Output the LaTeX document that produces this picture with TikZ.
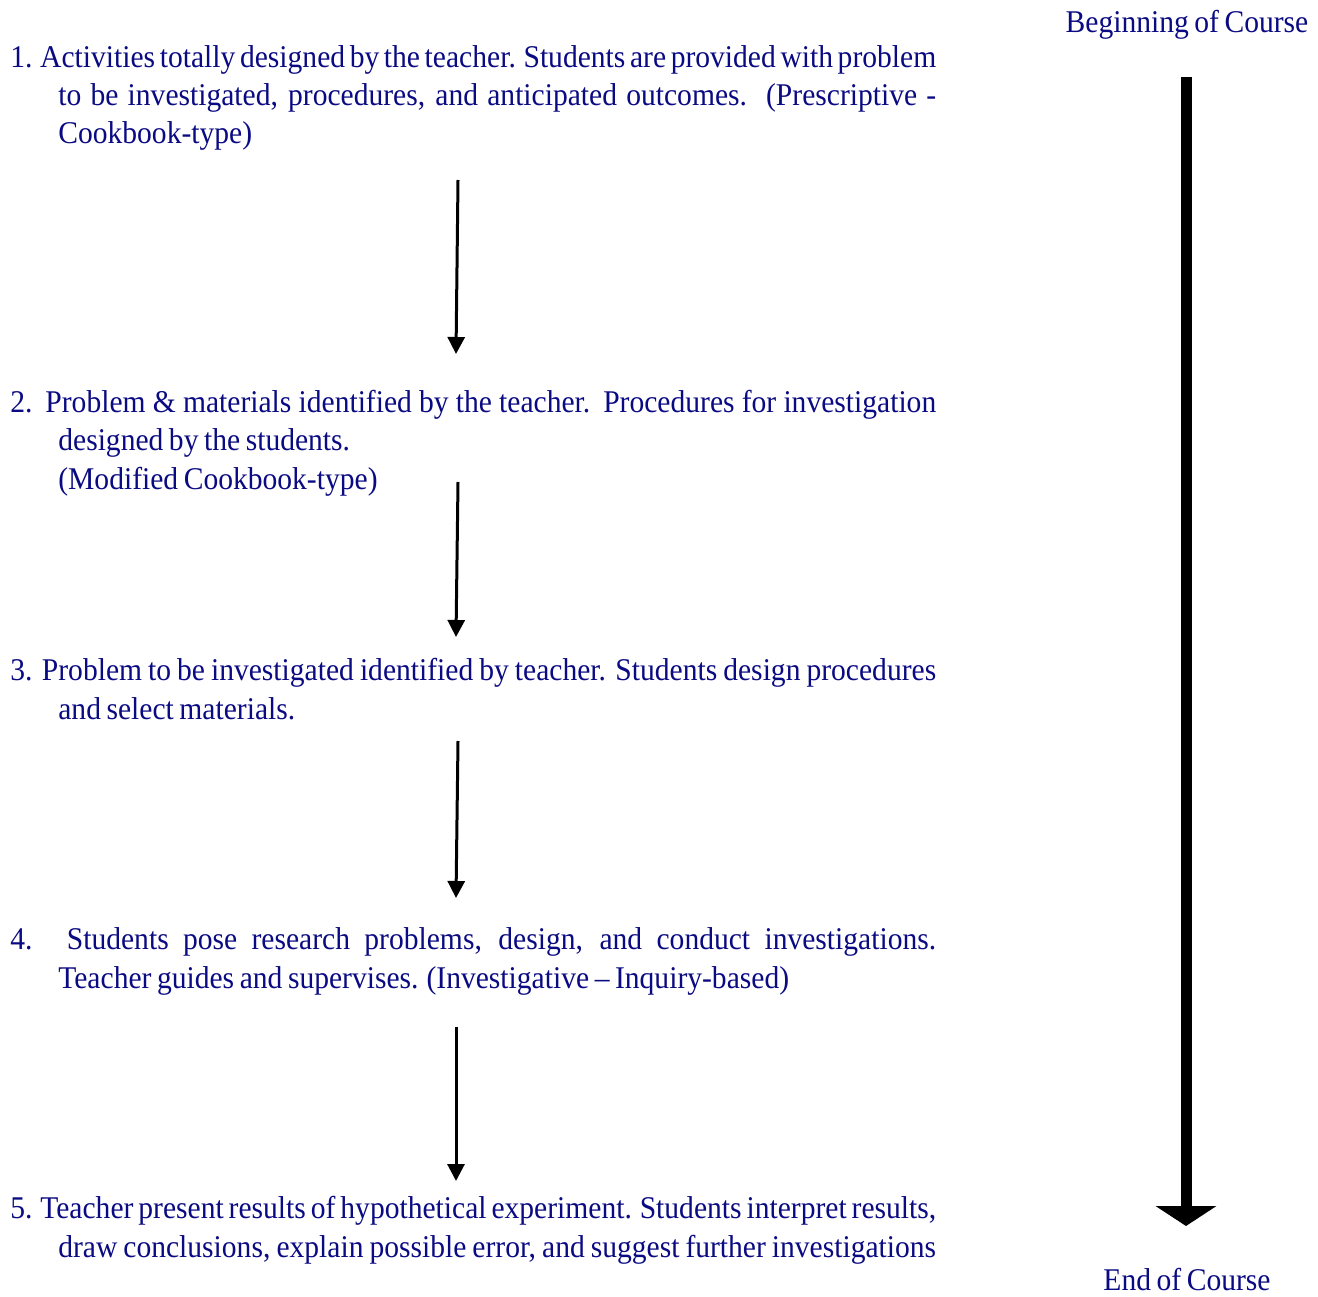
\documentclass[tikz,border=0pt]{standalone}
\usepackage{fontspec}
\setmainfont{Liberation Serif}[FakeStretch=0.935, WordSpace=0.75]
\usetikzlibrary{arrows.meta}
\definecolor{stageblue}{RGB}{10,10,130}
\tikzset{
    every node/.style={inner sep=0mm, text=stageblue, font=\fontsize{18}{21.9}\selectfont}
}
\tikzset{stagetext/.style={anchor=base west, align=left}}
\tikzset{stagearrow/.style={-{Triangle[width=3.4mm,length=3.4mm]}, line width=0.6mm}}
\tikzset{coursearrow/.style={-{Triangle[width=12mm,length=4mm]}, line width=2.2mm}}
\newcommand{\wideline}[1]{\makebox[18.52cm][s]{#1}}
\newcommand{\indline}[1]{\hspace*{0.96cm}\makebox[17.56cm][s]{#1}}
\newcommand{\indtext}[1]{\hspace*{0.96cm}#1}
\begin{document}
\begin{tikzpicture}[x=0.02cm, y=-0.02cm]
    \useasboundingbox (0,0) rectangle (1318,1297);

    % base anchor sits on the last line of each node
    \node (s1) [stagetext] at (10,144) {\wideline{1. Activities totally designed by the teacher.  Students are provided with problem}\\
        \indline{to be investigated, procedures, and anticipated outcomes. (Prescriptive -}\\
        \indtext{Cookbook-type)}};
    \node (s2) [stagetext] at (10,489) {\wideline{2. Problem \& materials identified by the teacher.  Procedures for investigation}\\
        \indtext{designed by the students.}\\
        \indtext{(Modified Cookbook-type)}};
    \node (s3) [stagetext] at (10,719) {\wideline{3. Problem to be investigated identified by teacher.  Students design procedures}\\
        \indtext{and select materials.}};
    \node (s4) [stagetext] at (10,988) {\wideline{4.  Students pose research problems, design, and conduct investigations.}\\
        \indtext{Teacher guides and supervises.  (Investigative -- Inquiry-based)}};
    \node (s5) [stagetext] at (10,1257) {\wideline{5. Teacher present results of hypothetical experiment.  Students interpret results,}\\
        \indline{draw conclusions, explain possible error, and suggest further investigations}};

    \node (begin) [anchor=base] at (1187,33) {Beginning of Course};
    \node (end) [anchor=base] at (1187,1290) {End of Course};

    \coordinate (a1) at (458,180);
    \coordinate (b1) at (456,354);
    \coordinate (a2) at (458,482);
    \coordinate (b2) at (456,637);
    \coordinate (a3) at (458,741);
    \coordinate (b3) at (456,898);
    \coordinate (a4) at (456,1027);
    \coordinate (b4) at (456,1181);
    \coordinate (ctop) at (1186,77);
    \coordinate (cbot) at (1186,1226);

    \draw[stagearrow] (a1) -- (b1);
    \draw[stagearrow] (a2) -- (b2);
    \draw[stagearrow] (a3) -- (b3);
    \draw[stagearrow] (a4) -- (b4);
    \draw[coursearrow] (ctop) -- (cbot);
\end{tikzpicture}
\end{document}
